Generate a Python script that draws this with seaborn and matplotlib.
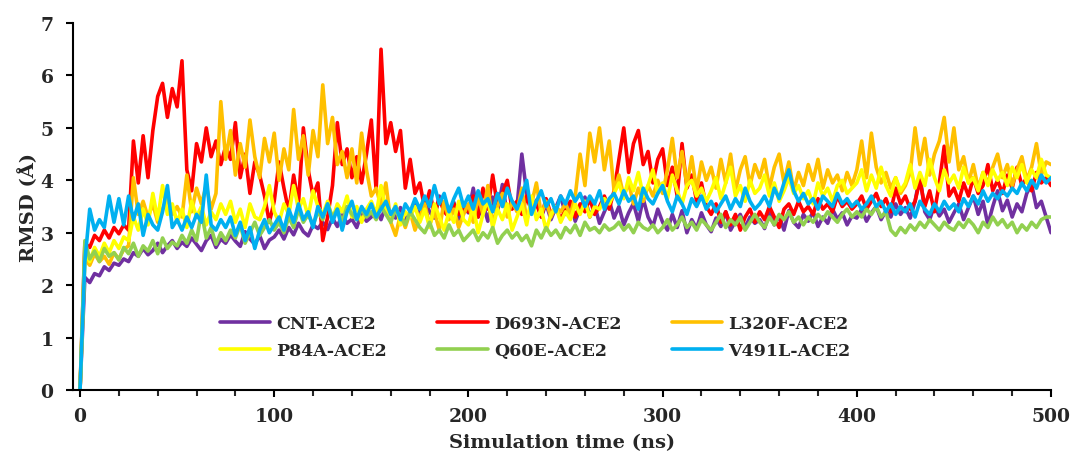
# libraries
import seaborn as sns
import matplotlib.pyplot as plt
import pandas as pd
import numpy as np

# sampling every 2.5 ns over the 500 ns run
time_ns = np.arange(0, 502.5, 2.5)

# RMSD values (Å)
cnt = [0, 2.15, 2.05, 2.22, 2.18, 2.35, 2.28, 2.42, 2.38, 2.50,
       2.45, 2.62, 2.55, 2.70, 2.58, 2.66, 2.80, 2.62, 2.75, 2.85,
       2.70, 2.82, 2.74, 2.90, 2.78, 2.66, 2.85, 2.95, 2.72, 2.88,
       2.80, 2.96, 2.84, 2.74, 3.02, 2.88, 2.78, 2.95, 2.70, 2.86,
       2.92, 3.05, 2.88, 3.10, 2.96, 3.18, 3.02, 2.94, 3.15, 3.08,
       3.20, 3.06, 3.28, 3.12, 3.34, 3.18, 3.26, 3.10, 3.38, 3.22,
       3.30, 3.45, 3.25, 3.52, 3.36, 3.28, 3.48, 3.22, 3.40, 3.55,
       3.35, 3.62, 3.40, 3.28, 3.70, 3.45, 3.32, 3.58, 3.26, 3.50,
       3.38, 3.85, 3.30, 3.55, 3.22, 3.68, 3.40, 3.92, 3.35, 3.60,
       3.48, 4.50, 3.75, 3.40, 3.62, 3.30, 3.55, 3.25, 3.48, 3.70,
       3.35, 3.58, 3.22, 3.46, 3.68, 3.30, 3.52, 3.18, 3.40, 3.62,
       3.28, 3.50, 3.15, 3.38, 3.56, 3.22, 3.65, 3.30, 3.12, 3.45,
       3.20, 3.05, 3.35, 3.10, 3.42, 3.00, 3.25, 3.08, 3.38, 3.15,
       3.02, 3.28, 3.12, 3.40, 3.05, 3.22, 3.35, 3.10, 3.30, 3.18,
       3.25, 3.08, 3.38, 3.15, 3.32, 3.05, 3.42, 3.20, 3.10, 3.35,
       3.22, 3.40, 3.12, 3.30, 3.18, 3.45, 3.26, 3.38, 3.15, 3.32,
       3.28, 3.45, 3.22, 3.38, 3.50, 3.25, 3.42, 3.30, 3.55, 3.35,
       3.48, 3.28, 3.60, 4.10, 3.40, 3.25, 3.52, 3.32, 3.45, 3.20,
       3.38, 3.55, 3.25, 3.48, 3.70, 3.35, 3.60, 3.15, 3.50, 3.80,
       3.42, 3.62, 3.30, 3.55, 3.40, 3.75, 3.92, 3.48, 3.60, 3.30,
       3.00]

d693n = [0, 2.80, 2.72, 2.95, 2.85, 3.05, 2.90, 3.10, 2.98, 3.15,
         3.05, 4.75, 3.95, 4.85, 4.05, 4.95, 5.60, 5.85, 5.20, 5.75,
         5.40, 6.28, 4.20, 3.80, 4.70, 4.35, 5.00, 4.45, 4.75, 4.30,
         4.65, 4.40, 5.10, 4.05, 4.50, 3.75, 4.35, 4.10, 3.70, 3.20,
         3.60, 4.35, 3.85, 3.40, 4.10, 3.55, 5.00, 4.20, 3.70, 3.95,
         2.85, 3.30, 3.90, 5.10, 4.30, 4.60, 4.05, 4.45, 3.95, 4.50,
         5.15, 3.80, 6.50, 4.70, 5.10, 4.55, 4.95, 3.85, 4.40, 3.75,
         3.95, 3.45, 3.80, 3.35, 3.65, 3.40, 3.30, 3.55, 3.35, 3.50,
         3.40, 3.70, 3.30, 3.85, 3.45, 4.10, 3.50, 3.75, 4.00, 3.45,
         3.60, 3.35, 3.70, 3.40, 3.55, 3.30, 3.65, 3.35, 3.50, 3.25,
         3.45, 3.60, 3.30, 3.55, 3.40, 3.65, 3.35, 3.50, 3.70, 3.45,
         3.80, 4.40, 5.00, 4.15, 4.70, 4.95, 4.30, 4.55, 3.95, 4.40,
         4.60, 3.90, 4.25, 3.70, 4.70, 3.85, 4.10, 3.60, 3.95, 3.50,
         3.35, 3.55, 3.20, 3.40, 3.15, 3.35, 3.05, 3.30, 3.45, 3.20,
         3.40, 3.25, 3.50, 3.30, 3.10, 3.45, 3.55, 3.35, 3.60, 3.40,
         3.50, 3.35, 3.65, 3.45, 3.55, 3.40, 3.70, 3.50, 3.60, 3.45,
         3.55, 3.70, 3.45, 3.60, 3.75, 3.50, 3.65, 3.40, 3.85, 3.55,
         3.70, 3.45, 3.60, 4.00, 3.50, 3.80, 3.40, 3.95, 4.65, 3.70,
         3.85, 3.60, 3.95, 3.70, 4.05, 3.75, 3.90, 4.30, 3.80, 4.00,
         3.75, 4.10, 3.85, 4.25, 3.90, 4.05, 3.80, 4.15, 3.95, 4.05,
         3.90]

l320f = [0, 2.50, 2.38, 2.60, 2.45, 2.55, 2.40, 2.62, 2.50, 2.68,
         2.75, 4.05, 3.35, 3.60, 3.30, 3.55, 3.20, 3.45, 3.65, 3.35,
         3.50, 3.30, 4.10, 3.40, 3.85, 3.55, 3.90, 3.45, 3.75, 5.50,
         4.40, 4.95, 4.10, 4.70, 4.25, 5.15, 4.45, 4.05, 4.80, 4.35,
         4.90, 4.00, 4.60, 4.20, 5.35, 4.40, 4.85, 4.10, 4.95, 4.45,
         5.82, 4.70, 5.20, 4.30, 4.55, 4.05, 4.60, 3.95, 4.90, 4.20,
         3.70, 3.85, 3.50, 3.95, 3.20, 2.95, 3.35, 3.10, 3.40, 3.05,
         3.30, 3.55, 3.15, 3.40, 3.05, 3.60, 3.25, 3.45, 3.10, 3.35,
         3.55, 3.20, 3.70, 3.35, 3.90, 3.15, 3.50, 3.75, 3.30, 3.60,
         3.40, 3.85, 3.25, 3.55, 3.95, 3.35, 3.60, 3.30, 3.50, 3.40,
         3.55, 3.35, 3.70, 4.50, 3.90, 4.90, 4.35, 5.00, 4.20, 4.75,
         3.80, 4.10, 3.70, 3.95, 3.55, 3.85, 3.60, 3.90, 3.70, 4.00,
         3.75, 4.20, 4.80, 4.05, 4.55, 3.90, 4.45, 3.80, 4.35, 4.00,
         4.25, 3.85, 4.40, 3.95, 4.50, 3.80, 4.20, 4.45, 3.90, 4.30,
         4.05, 4.40, 3.85, 4.25, 4.50, 3.95, 4.35, 3.80, 4.15, 3.90,
         4.30, 4.00, 4.40, 3.85, 4.20, 3.95, 4.10, 3.80, 4.15, 3.90,
         4.20, 4.75, 4.05, 4.90, 4.25, 3.95, 4.15, 3.85, 4.05, 3.75,
         3.90, 4.15, 5.00, 4.30, 4.80, 4.10, 4.50, 4.75, 5.20, 4.35,
         5.00, 4.20, 4.45, 3.95, 4.30, 3.85, 4.15, 3.95, 4.25, 4.50,
         4.05, 4.30, 3.90, 4.20, 4.45, 4.00, 4.25, 4.70, 4.10, 4.35,
         4.30]

p84a = [0, 2.60, 2.45, 2.72, 2.55, 2.80, 2.62, 2.85, 2.70, 2.92,
        2.85, 3.30, 3.05, 3.45, 3.15, 3.75, 3.25, 3.90, 3.35, 3.55,
        3.20, 3.45, 3.10, 3.60, 3.30, 3.50, 3.15, 3.40, 3.25, 3.55,
        3.35, 3.60, 3.20, 3.45, 3.10, 3.55, 3.30, 3.25, 3.50, 3.90,
        3.40, 3.20, 3.55, 3.35, 3.90, 3.45, 3.65, 3.30, 3.80, 3.50,
        3.35, 3.60, 3.25, 3.55, 3.40, 3.70, 3.30, 3.50, 3.20, 3.45,
        3.60, 3.35, 3.90, 3.45, 3.25, 3.55, 3.15, 3.40, 3.30, 3.50,
        3.20, 3.45, 3.10, 3.55, 3.30, 3.05, 3.40, 3.20, 3.60, 3.25,
        3.15, 3.50, 3.00, 3.35, 3.65, 3.10, 3.45, 3.25, 3.55, 3.05,
        3.30, 3.55, 3.15, 3.70, 3.25, 3.45, 3.05, 3.35, 3.50, 3.20,
        3.40, 3.25, 3.55, 3.35, 3.60, 3.30, 3.50, 3.45, 3.65, 3.55,
        3.75, 3.95, 3.65, 4.05, 3.80, 4.15, 3.70, 3.90, 4.20, 3.75,
        3.95, 3.65, 4.10, 3.80, 3.55, 3.90, 4.00, 3.70, 3.85, 3.60,
        3.80, 4.05, 3.65, 3.95, 4.25, 3.70, 3.90, 3.60, 4.00, 3.75,
        3.85, 4.10, 3.70, 3.95, 3.60, 3.80, 4.05, 3.75, 3.90, 3.65,
        3.80, 3.55, 3.95, 3.70, 3.85, 3.60, 3.90, 4.00, 3.75, 3.85,
        3.95, 4.20, 3.80, 4.10, 3.85, 4.25, 3.90, 3.70, 4.05, 3.80,
        3.95, 4.30, 3.85, 4.15, 3.90, 4.40, 4.05, 3.80, 4.20, 3.95,
        4.10, 3.85, 4.25, 3.95, 4.05, 3.80, 4.15, 3.90, 4.20, 4.00,
        4.15, 3.90, 4.25, 4.05, 4.30, 3.95, 4.20, 4.05, 4.40, 4.10,
        4.05]

q60e = [0, 2.85, 2.50, 2.65, 2.45, 2.70, 2.55, 2.62, 2.48, 2.72,
        2.60, 2.80, 2.55, 2.75, 2.65, 2.85, 2.60, 2.90, 2.70, 2.82,
        2.75, 2.95, 2.80, 3.05, 2.85, 3.40, 2.90, 3.10, 2.78, 3.00,
        2.85, 3.05, 2.90, 3.15, 2.80, 3.00, 3.20, 2.95, 3.10, 3.25,
        3.05, 3.20, 3.00, 3.30, 3.10, 3.45, 3.20, 3.35, 3.15, 3.40,
        3.25, 3.55, 3.30, 3.45, 3.20, 3.50, 3.35, 3.25, 3.45, 3.30,
        3.40, 3.25, 3.50, 3.35, 3.20, 3.45, 3.30, 3.15, 3.40, 3.25,
        3.10, 3.00, 3.20, 2.95, 3.05, 2.90, 3.15, 2.95, 3.05, 2.85,
        2.95, 3.05, 2.85, 3.00, 2.90, 3.10, 2.80, 2.95, 3.05, 2.90,
        3.00, 2.85, 2.95, 2.75, 3.05, 2.90, 3.10, 2.95, 3.05, 2.90,
        3.10, 3.00, 3.15, 2.95, 3.20, 3.05, 3.10, 3.00, 3.15, 3.05,
        3.10, 3.20, 3.05, 3.15, 3.00, 3.20, 3.10, 3.05, 3.15, 3.00,
        3.10, 3.25, 3.05, 3.15, 3.30, 3.10, 3.20, 3.05, 3.25, 3.15,
        3.05, 3.20, 3.35, 3.10, 3.25, 3.15, 3.30, 3.05, 3.20, 3.35,
        3.20, 3.10, 3.30, 3.15, 3.35, 3.25, 3.40, 3.20, 3.30, 3.15,
        3.30, 3.20, 3.35, 3.25, 3.40, 3.30, 3.20, 3.35, 3.45, 3.30,
        3.40, 3.30, 3.45, 3.35, 3.50, 3.30, 3.40, 3.05, 2.95, 3.10,
        3.00, 3.15, 3.05, 3.20, 3.10, 3.25, 3.15, 3.05, 3.20, 3.10,
        3.05, 3.20, 3.10, 3.25, 3.15, 3.00, 3.20, 3.10, 3.30, 3.15,
        3.25, 3.10, 3.20, 3.00, 3.15, 3.05, 3.20, 3.10, 3.25, 3.30,
        3.30]

v491l = [0, 2.45, 3.45, 3.05, 3.25, 3.10, 3.70, 3.20, 3.65, 3.15,
         3.70, 3.25, 3.55, 2.95, 3.35, 3.15, 3.05, 3.40, 3.90, 3.10,
         3.25, 3.05, 3.30, 3.10, 3.35, 3.20, 4.10, 3.15, 3.05, 3.25,
         3.10, 3.30, 2.95, 3.20, 2.85, 3.10, 2.70, 3.05, 3.25, 3.00,
         3.15, 3.30, 3.05, 3.45, 3.20, 3.55, 3.25, 3.40, 3.10, 3.50,
         3.30, 3.55, 3.20, 3.45, 3.05, 3.40, 3.60, 3.25, 3.50, 3.35,
         3.55, 3.30, 3.45, 3.60, 3.35, 3.50, 3.25, 3.55, 3.40, 3.65,
         3.45, 3.70, 3.50, 3.90, 3.55, 3.75, 3.40, 3.65, 3.85, 3.50,
         3.70, 3.45, 3.80, 3.55, 3.65, 3.40, 3.75, 3.50, 3.85, 3.60,
         3.45, 3.70, 4.00, 3.35, 3.60, 3.80, 3.50, 3.65, 3.40, 3.70,
         3.55, 3.80, 3.60, 3.75, 3.50, 3.70, 3.55, 3.80, 3.45, 3.65,
         3.75, 3.55, 3.80, 3.60, 3.70, 3.45, 3.85, 3.65, 3.55, 3.75,
         3.90, 3.60, 3.40, 3.70, 3.55, 3.35, 3.65, 3.50, 3.70, 3.45,
         3.60, 3.40, 3.55, 3.70, 3.45, 3.65, 3.50, 3.85, 3.60, 3.45,
         3.55, 3.70, 3.50, 3.85, 3.65, 3.95, 4.20, 3.80, 3.60, 3.75,
         3.55, 3.65, 3.45, 3.70, 3.60, 3.50, 3.75, 3.55, 3.65, 3.50,
         3.60, 3.45, 3.55, 3.70, 3.50, 3.60, 3.40, 3.55, 3.35, 3.50,
         3.40, 3.55, 3.30, 3.60, 3.45, 3.35, 3.55, 3.40, 3.60, 3.45,
         3.55, 3.40, 3.65, 3.50, 3.70, 3.55, 3.80, 3.60, 3.75, 3.65,
         3.80, 3.70, 3.85, 3.75, 3.95, 3.80, 4.00, 3.85, 4.10, 3.95,
         4.05]

labels = ["CNT-ACE2", "D693N-ACE2", "L320F-ACE2", "P84A-ACE2", "Q60E-ACE2", "V491L-ACE2"]
colors = ["#7030A0", "#FF0000", "#FFC000", "#FFFF00", "#92D050", "#00B0F0"]
series = [cnt, d693n, l320f, p84a, q60e, v491l]

# long-form table for seaborn
df = pd.concat(
    [pd.DataFrame({"time": time_ns, "rmsd": vals, "system": lab}) for lab, vals in zip(labels, series)],
    ignore_index=True)

sns.set_style("white")
plt.rcParams["font.family"] = ["DejaVu Serif"]
plt.rcParams["font.weight"] = "bold"

fig = plt.figure(figsize=(10.74, 4.56), dpi=100)
ax = fig.add_axes([0.068, 0.1425, 0.9106, 0.8048])

sns.lineplot(data=df, x="time", y="rmsd", hue="system", hue_order=labels,
             palette=colors, estimator=None, linewidth=2.6, legend=False, ax=ax)

ax.set_xlim(-3.6, 500)
ax.set_ylim(0, 7)
ax.set_xticks(range(0, 501, 100))
ax.set_xticks(range(0, 501, 20), minor=True)
ax.set_yticks(range(0, 8))
ax.tick_params(axis="both", which="major", direction="out", length=5, width=1.5,
               labelsize=13.5, color="black", bottom=True, left=True)
ax.tick_params(axis="x", which="major", pad=7)
ax.tick_params(axis="y", which="major", pad=9)
ax.tick_params(axis="x", which="minor", direction="out", length=4, width=1.5, bottom=True)
for lab in ax.get_xticklabels() + ax.get_yticklabels():
    lab.set_fontweight("bold")

sns.despine(ax=ax)
for side in ["left", "bottom"]:
    ax.spines[side].set_linewidth(1.5)
    ax.spines[side].set_color("black")

ax.set_xlabel("Simulation time (ns)", fontsize=14, fontweight="bold", labelpad=6)
ax.set_ylabel("RMSD (Å)", fontsize=14, fontweight="bold", labelpad=2)

# legend filled row by row, like the original (matplotlib fills columns)
handles = [plt.Line2D([], [], color=c, linewidth=2.6) for c in colors]
order = [0, 3, 1, 4, 2, 5]
ax.legend([handles[i] for i in order], [labels[i] for i in order], ncol=3, frameon=False,
          loc="upper left", bbox_to_anchor=(220 / 1074, 1 - 316 / 456), bbox_transform=fig.transFigure,
          prop={"family": "DejaVu Serif", "weight": "bold", "size": 12.5},
          handlelength=2.9, handletextpad=0.35, columnspacing=2.9,
          labelspacing=0.6, borderpad=0, borderaxespad=0)

fig.savefig("out.png", dpi=100)
